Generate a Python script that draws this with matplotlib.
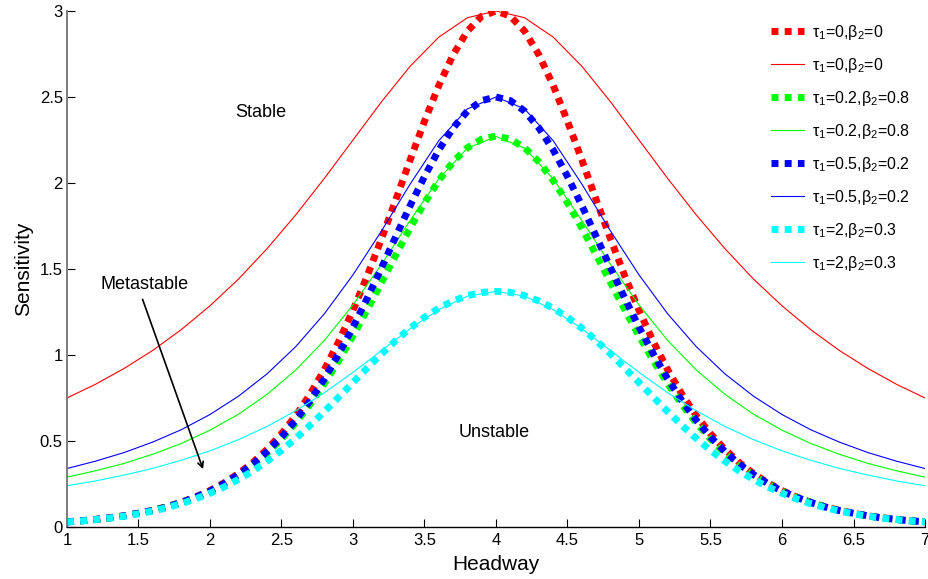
import numpy as np
import matplotlib
matplotlib.use("Agg")
import matplotlib.pyplot as plt

plt.rcParams['font.family'] = ['Liberation Sans', 'DejaVu Sans']
plt.rcParams['mathtext.default'] = 'regular'

# headway grids (dotted curves read finer than solid ones)
headway_dot = np.round(np.arange(1.0, 7.001, 0.1), 2)
headway_sol = np.round(np.arange(1.0, 7.001, 0.2), 2)

# dotted curves
red_dot = [0.030, 0.036, 0.044, 0.054, 0.065, 0.080, 0.097, 0.118, 0.144, 0.175,
           0.212, 0.257, 0.311, 0.375, 0.452, 0.542, 0.648, 0.772, 0.915, 1.078,
           1.260, 1.461, 1.677, 1.904, 2.135, 2.359, 2.567, 2.745, 2.883, 2.970,
           3.000,
           2.970, 2.883, 2.745, 2.567, 2.359, 2.135, 1.904, 1.677, 1.461, 1.260,
           1.078, 0.915, 0.772, 0.648, 0.542, 0.452, 0.375, 0.311, 0.257, 0.212,
           0.175, 0.144, 0.118, 0.097, 0.080, 0.065, 0.054, 0.044, 0.036, 0.030]
green_dot = [0.030, 0.036, 0.044, 0.053, 0.065, 0.079, 0.096, 0.117, 0.142, 0.172,
             0.207, 0.250, 0.301, 0.361, 0.431, 0.512, 0.606, 0.713, 0.834, 0.967,
             1.111, 1.264, 1.423, 1.583, 1.739, 1.885, 2.015, 2.123, 2.205, 2.255,
             2.273,
             2.255, 2.205, 2.123, 2.015, 1.885, 1.739, 1.583, 1.423, 1.264, 1.111,
             0.967, 0.834, 0.713, 0.606, 0.512, 0.431, 0.361, 0.301, 0.250, 0.207,
             0.172, 0.142, 0.117, 0.096, 0.079, 0.065, 0.053, 0.044, 0.036, 0.030]
blue_dot = [0.030, 0.036, 0.044, 0.053, 0.065, 0.080, 0.096, 0.117, 0.143, 0.173,
            0.209, 0.253, 0.305, 0.366, 0.439, 0.523, 0.621, 0.734, 0.862, 1.006,
            1.162, 1.331, 1.508, 1.690, 1.869, 2.038, 2.192, 2.320, 2.418, 2.479,
            2.500,
            2.479, 2.418, 2.320, 2.192, 2.038, 1.869, 1.690, 1.508, 1.331, 1.162,
            1.006, 0.862, 0.734, 0.621, 0.523, 0.439, 0.366, 0.305, 0.253, 0.209,
            0.173, 0.143, 0.117, 0.096, 0.080, 0.065, 0.053, 0.044, 0.036, 0.030]
cyan_dot = [0.029, 0.035, 0.043, 0.052, 0.063, 0.077, 0.093, 0.113, 0.136, 0.164,
            0.196, 0.233, 0.277, 0.326, 0.383, 0.446, 0.515, 0.591, 0.671, 0.755,
            0.840, 0.925, 1.007, 1.085, 1.156, 1.219, 1.272, 1.314, 1.345, 1.364,
            1.370,
            1.364, 1.345, 1.314, 1.272, 1.219, 1.156, 1.085, 1.007, 0.925, 0.840,
            0.755, 0.671, 0.591, 0.515, 0.446, 0.383, 0.326, 0.277, 0.233, 0.196,
            0.164, 0.136, 0.113, 0.093, 0.077, 0.063, 0.052, 0.043, 0.035, 0.029]

# solid curves
red_sol = [0.750, 0.830, 0.922, 1.027, 1.148, 1.286, 1.442, 1.619, 1.815, 2.027,
           2.250, 2.473, 2.679, 2.848, 2.961, 3.000, 2.961, 2.848, 2.679, 2.473,
           2.250, 2.027, 1.815, 1.619, 1.442, 1.286, 1.148, 1.027, 0.922, 0.830, 0.750]
green_sol = [0.290, 0.327, 0.370, 0.423, 0.486, 0.563, 0.656, 0.772, 0.913, 1.085,
             1.291, 1.528, 1.783, 2.024, 2.203, 2.270, 2.203, 2.024, 1.783, 1.528,
             1.291, 1.085, 0.913, 0.772, 0.656, 0.563, 0.486, 0.423, 0.370, 0.327, 0.290]
blue_sol = [0.340, 0.383, 0.433, 0.494, 0.566, 0.654, 0.761, 0.891, 1.049, 1.240,
            1.466, 1.722, 1.994, 2.246, 2.431, 2.500, 2.431, 2.246, 1.994, 1.722,
            1.466, 1.240, 1.049, 0.891, 0.761, 0.654, 0.566, 0.494, 0.433, 0.383, 0.340]
cyan_sol = [0.240, 0.268, 0.302, 0.341, 0.388, 0.443, 0.508, 0.585, 0.676, 0.781,
            0.899, 1.026, 1.153, 1.264, 1.342, 1.370, 1.342, 1.264, 1.153, 1.026,
            0.899, 0.781, 0.676, 0.585, 0.508, 0.443, 0.388, 0.341, 0.302, 0.268, 0.240]

labels = [r'$\tau_1$=0,$\beta_2$=0', r'$\tau_1$=0.2,$\beta_2$=0.8',
          r'$\tau_1$=0.5,$\beta_2$=0.2', r'$\tau_1$=2,$\beta_2$=0.3']
colors = ['#ff0000', '#00ff00', '#0000ff', '#00ffff']
dotted = [red_dot, green_dot, blue_dot, cyan_dot]
solid = [red_sol, green_sol, blue_sol, cyan_sol]

fig = plt.figure(figsize=(9.29, 5.79), dpi=100)
ax = fig.add_axes([0.0721, 0.0898, 0.9236, 0.8912])

for lab, c, yd, ys in zip(labels, colors, dotted, solid):
    ax.plot(headway_dot, yd, color=c, lw=5, linestyle=(0, (1, 0.9)), label=lab)
    ax.plot(headway_sol, ys, color=c, lw=0.8, label=lab)

ax.set_xlim(1, 7)
ax.set_ylim(0, 3)
ax.set_xticks(np.arange(1, 7.01, 0.5))
ax.set_xticklabels(['1', '1.5', '2', '2.5', '3', '3.5', '4', '4.5', '5', '5.5', '6', '6.5', '7'])
ax.set_yticks([0, 0.5, 1, 1.5, 2, 2.5, 3])
ax.set_yticklabels(['0', '0.5', '1', '1.5', '2', '2.5', '3'])
ax.tick_params(direction='in', length=6, labelsize=12, width=0.8)
ax.tick_params(axis='x', pad=4)
ax.tick_params(axis='y', pad=3)
ax.spines['top'].set_visible(False)
ax.spines['right'].set_visible(False)
ax.spines['left'].set_color('0.45')
ax.spines['left'].set_linewidth(1.3)
ax.spines['bottom'].set_linewidth(1.0)
ax.set_xlabel('Headway', fontsize=15, labelpad=5)
ax.set_ylabel('Sensitivity', fontsize=15, labelpad=5)

ax.text(2.357, 2.407, 'Stable', fontsize=13, ha='center', va='center')
ax.text(3.99, 0.552, 'Unstable', fontsize=13, ha='center', va='center')
ax.text(1.545, 1.407, 'Metastable', fontsize=13, ha='center', va='center')
ax.annotate('', xy=(1.958, 0.321), xytext=(1.522, 1.339),
            arrowprops=dict(arrowstyle='->', color='black', lw=1.2))

leg = ax.legend(loc='upper left', bbox_to_anchor=(0.813, 0.99), frameon=False,
                fontsize=11.5, handlelength=2.1, handletextpad=0.5, labelspacing=0.88,
                borderaxespad=0)

fig.savefig('out.png', dpi=100)
